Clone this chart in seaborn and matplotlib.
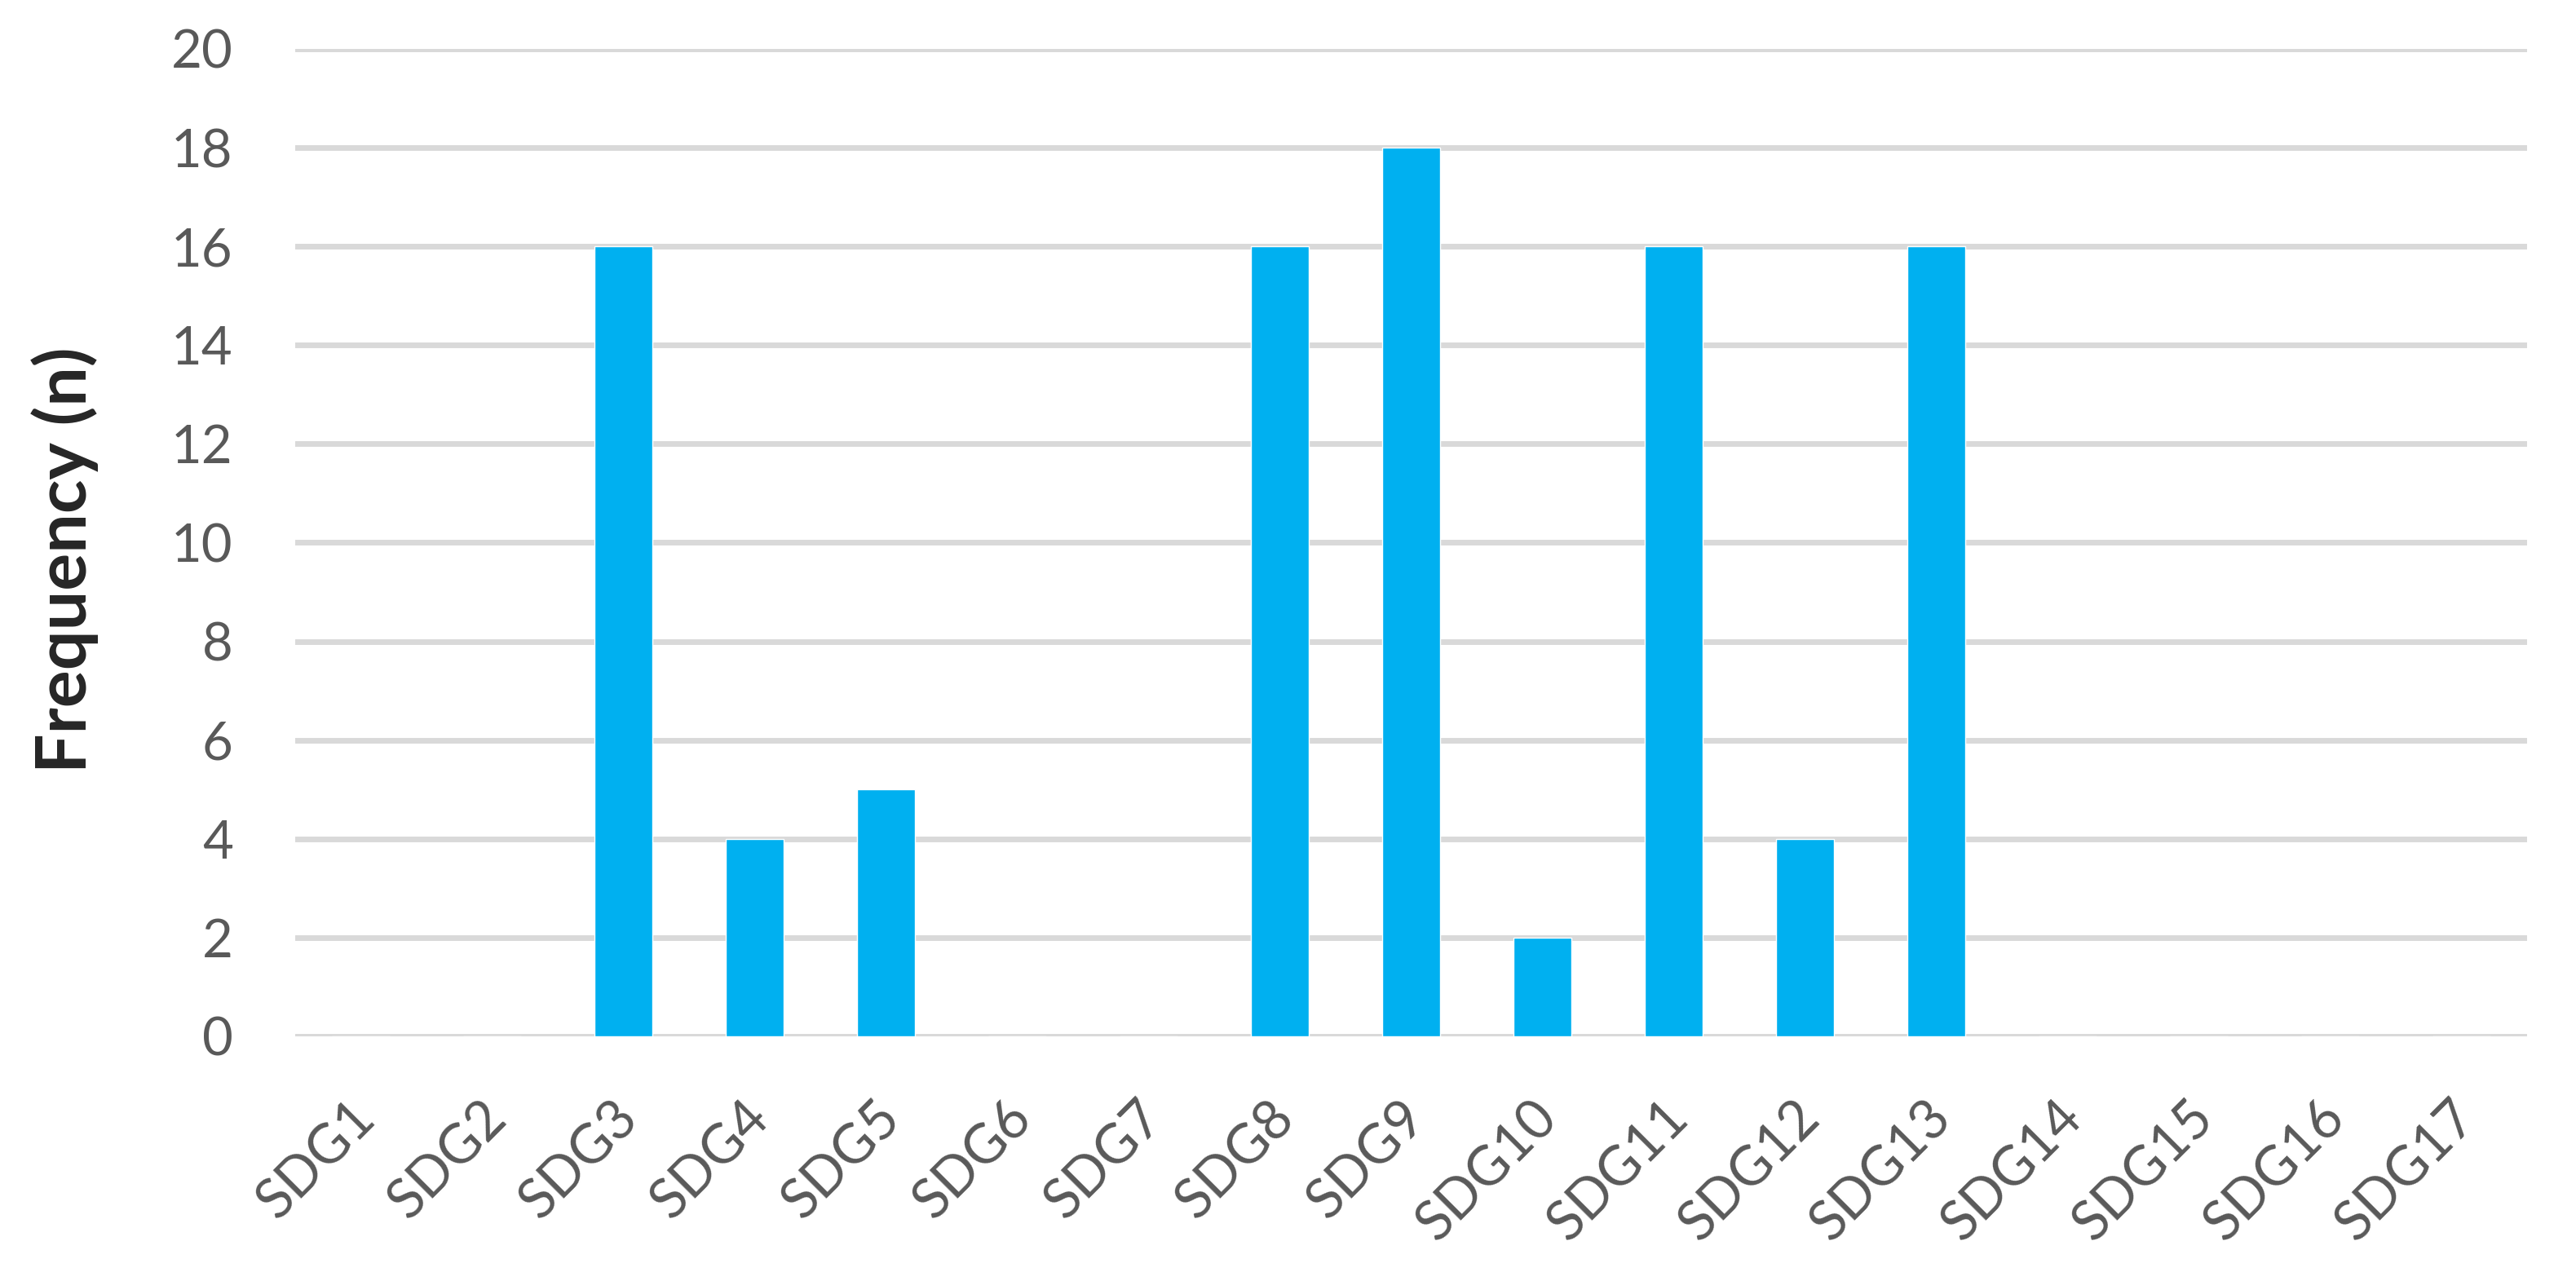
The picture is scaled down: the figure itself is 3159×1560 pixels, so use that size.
import matplotlib
matplotlib.use("Agg")
import matplotlib.pyplot as plt
import matplotlib.transforms as mtransforms
import pandas as pd
import seaborn as sns

goals = ["SDG1", "SDG2", "SDG3", "SDG4", "SDG5", "SDG6", "SDG7", "SDG8", "SDG9",
         "SDG10", "SDG11", "SDG12", "SDG13", "SDG14", "SDG15", "SDG16", "SDG17"]
freq = [0, 0, 16, 4, 5, 0, 0, 16, 18, 2, 16, 4, 16, 0, 0, 0, 0]
yticks = [0, 2, 4, 6, 8, 10, 12, 14, 16, 18, 20]

df = pd.DataFrame({"goal": goals, "n": freq})

sns.set_theme(style="white")
plt.rcParams["font.family"] = ["Lato", "DejaVu Sans"]

fig = plt.figure(figsize=(31.59, 15.6), dpi=100)
ax = fig.add_axes([0.1146, 0.1853, 0.8664, 0.7763])

sns.barplot(data=df, x="goal", y="n", color="#00B0F0", saturation=1,
            width=0.44, ax=ax, zorder=3)

ax.set_ylim(0, 20)
ax.set_yticks(yticks)
ax.set_xlim(-0.5, len(goals) - 0.5)
ax.yaxis.grid(True, color="#D9D9D9", linewidth=5, zorder=0)
ax.set_axisbelow(True)
for s in ax.spines.values():
    s.set_visible(False)

ax.tick_params(axis="y", length=0, pad=55, labelsize=47, labelcolor="#595959")
ax.tick_params(axis="x", length=0, pad=49, labelsize=48, labelcolor="#595959")
plt.setp(ax.get_xticklabels(), rotation=45, ha="right")
# nudge the rotated labels so their ends sit under the bars, as in Excel
offset = mtransforms.ScaledTranslation(30 / 100, 0, fig.dpi_scale_trans)
for lab in ax.get_xticklabels():
    lab.set_transform(lab.get_transform() + offset)

ax.set_xlabel("")
ax.set_ylabel("Frequency (n)", fontsize=62, fontweight="bold", color="#262626")
ax.yaxis.set_label_coords(-0.088, 0.482)

fig.savefig("out.png", dpi=100)
